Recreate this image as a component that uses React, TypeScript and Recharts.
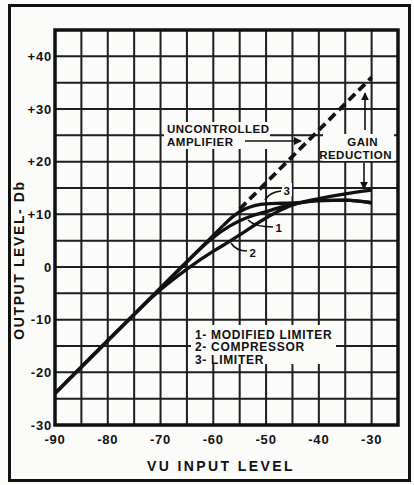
import React from "react";
import { LineChart, Line, XAxis, YAxis, CartesianGrid } from "recharts";

// VU input level (dB) and output level (dB)
const uncontrolledX = [-55, -30];
const uncontrolledY = [11, 36];

const limiterX = [-90, -75, -65, -60, -58, -56, -54, -52, -50, -47, -44, -40, -35, -30];
const limiterY = [-24, -9, 1, 6, 8, 9.8, 11, 11.7, 12, 12.1, 12.2, 12.6, 12.7, 12.2];

const modifiedX = [-90, -75, -65, -62, -60, -57, -55, -53, -50, -47, -44, -40, -35, -30];
const modifiedY = [-24, -9, 1, 3.9, 5.6, 7.7, 8.8, 9.6, 10.5, 11.4, 12.1, 12.6, 12.7, 12.2];

const compressorX = [-90, -75, -72, -70, -65, -60, -57, -55, -50, -47, -44, -40, -35, -30];
const compressorY = [-24, -9, -6.1, -4.3, -0.4, 3, 4.8, 6.1, 9.3, 10.9, 12.1, 13, 13.9, 14.6];

const xTicks = [-90, -85, -80, -75, -70, -65, -60, -55, -50, -45, -40, -35, -30, -25];
const xLabels = ["-90", "", "-80", "", "-70", "", "-60", "", "-50", "", "-40", "", "-30", ""];
const yTicks = [-30, -25, -20, -15, -10, -5, 0, 5, 10, 15, 20, 25, 30, 35, 40, 45];
const yLabels = ["-30", "", "-20", "", "-10", "", "0", "", "+10", "", "+20", "", "+30", "", "+40", ""];

const legendLines = ["1- MODIFIED LIMITER", "2- COMPRESSOR", "3- LIMITER"];

const zip = (xs: number[], ys: number[]) => xs.map((x, i) => ({ x, y: ys[i] }));

const font = "'Liberation Sans', Arial, sans-serif";
const ink = "#111";
const paper = "#fbfbfa";

export default function App() {
  const tickStyle = { fontSize: 13, fontWeight: 700, fill: ink, fontFamily: font, letterSpacing: 0.8 };
  return (
    <div style={{ position: "absolute", left: 0, top: 0, width: 414, height: 485, background: paper }}>
      <LineChart width={414} height={485} margin={{ top: 30, right: 16, bottom: 30, left: 10 }}>
        <CartesianGrid stroke="#1e1e1e" strokeWidth={2} />
        <XAxis
          type="number"
          dataKey="x"
          domain={[-90, -25]}
          ticks={xTicks}
          interval={0}
          tickFormatter={(v: number) => xLabels[xTicks.indexOf(v)]}
          height={30}
          tick={tickStyle}
          tickLine={false}
          axisLine={false}
          tickSize={0}
          tickMargin={10}
        />
        <YAxis
          type="number"
          domain={[-30, 45]}
          ticks={yTicks}
          interval={0}
          tickFormatter={(v: number) => yLabels[yTicks.indexOf(v)]}
          width={45}
          tick={tickStyle}
          tickLine={false}
          axisLine={false}
          tickSize={0}
          tickMargin={3}
        />
        <Line data={zip(uncontrolledX, uncontrolledY)} dataKey="y" stroke={ink} strokeWidth={3.8} strokeDasharray="9 5" dot={false} activeDot={false} isAnimationActive={false} />
        <Line data={zip(limiterX, limiterY)} type="monotone" dataKey="y" stroke={ink} strokeWidth={3.3} dot={false} activeDot={false} isAnimationActive={false} />
        <Line data={zip(modifiedX, modifiedY)} type="monotone" dataKey="y" stroke={ink} strokeWidth={3.3} dot={false} activeDot={false} isAnimationActive={false} />
        <Line data={zip(compressorX, compressorY)} type="monotone" dataKey="y" stroke={ink} strokeWidth={3.3} dot={false} activeDot={false} isAnimationActive={false} />
      </LineChart>
      <svg width={414} height={485} style={{ position: "absolute", left: 0, top: 0, pointerEvents: "none" }}>
        <defs>
          <marker id="ah" viewBox="0 0 10 10" refX="9" refY="5" markerWidth="5" markerHeight="5" orient="auto-start-reverse">
            <path d="M0,0 L10,5 L0,10 z" fill={ink} />
          </marker>
        </defs>
        <rect x={9.5} y={5.5} width={400} height={475} fill="none" stroke={ink} strokeWidth={3} />
        <rect x={55} y={30} width={343} height={395} fill="none" stroke={ink} strokeWidth={3.5} />
        {/* label knockouts over the grid */}
        <rect x={164} y={122} width={106} height={27} fill={paper} />
        <rect x={323} y={134} width={71} height={27} fill={paper} />
        <rect x={191} y={325} width={145} height={39} fill={paper} />
        <rect x={282} y={183} width={10} height={13} fill={paper} />
        <rect x={274} y={221} width={10} height={13} fill={paper} />
        <rect x={248} y={245} width={10} height={13} fill={paper} />
        <g fontFamily={font} fontWeight={700} fill={ink} fontSize={11.5} letterSpacing={0.5}>
          <text x={167} y={133}>UNCONTROLLED</text>
          <text x={167} y={146}>AMPLIFIER</text>
          <text x={378} y={146} textAnchor="end">GAIN</text>
          <text x={392} y={159} textAnchor="end">REDUCTION</text>
          <text x={287} y={195} textAnchor="middle">3</text>
          <text x={279} y={232} textAnchor="middle">1</text>
          <text x={253} y={257} textAnchor="middle">2</text>
        </g>
        <g fontFamily={font} fontWeight={700} fill={ink} fontSize={12} letterSpacing={0.7}>
          {legendLines.map((t, i) => (
            <text key={t} x={195} y={338.5 + i * 12.5}>{t}</text>
          ))}
        </g>
        <line x1={245} y1={141} x2={301} y2={141} stroke={ink} strokeWidth={1.6} markerEnd="url(#ah)" />
        <line x1={365} y1={130} x2={365} y2={93} stroke={ink} strokeWidth={1.6} markerEnd="url(#ah)" />
        <line x1={364} y1={163} x2={364} y2={189} stroke={ink} strokeWidth={1.6} markerEnd="url(#ah)" />
        <path d="M265,200 Q270,192 281,191" fill="none" stroke={ink} strokeWidth={1.6} />
        <path d="M248,220 Q255,227 273,227" fill="none" stroke={ink} strokeWidth={1.6} />
        <path d="M231,243 Q236,251 247,251" fill="none" stroke={ink} strokeWidth={1.6} />
        <text
          x={24}
          y={260}
          transform="rotate(-90 24 260)"
          textAnchor="middle"
          fontFamily={font}
          fontWeight={700}
          fontSize={14}
          letterSpacing={1.6}
          fill={ink}
        >
          OUTPUT LEVEL- Db
        </text>
        <text x={221} y={471} textAnchor="middle" fontFamily={font} fontWeight={700} fontSize={14} letterSpacing={2.4} fill={ink}>
          VU INPUT LEVEL
        </text>
      </svg>
    </div>
  );
}
